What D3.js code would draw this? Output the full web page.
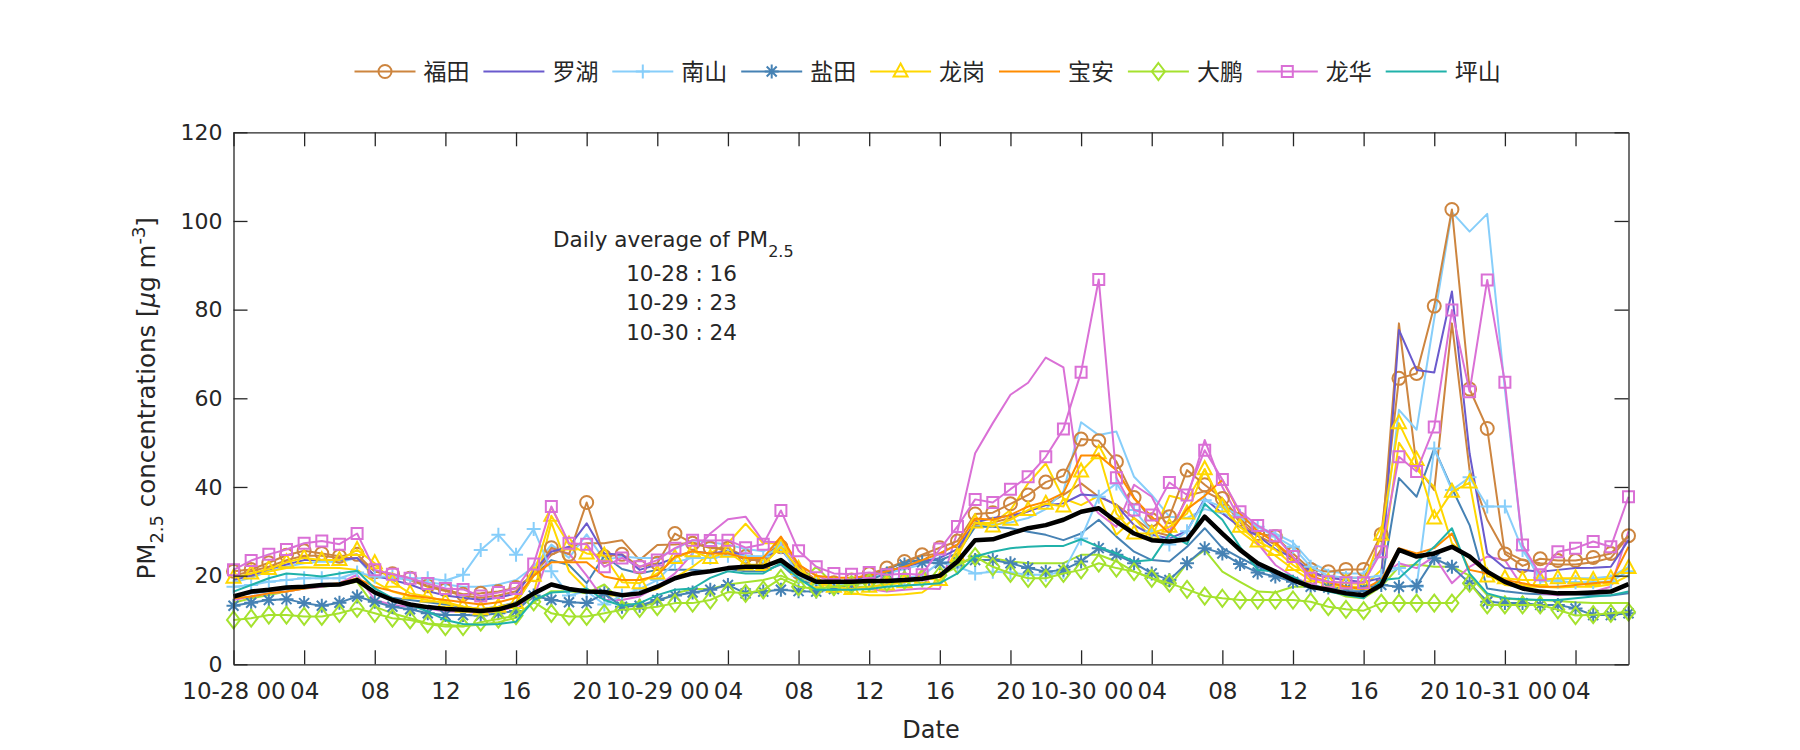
<!DOCTYPE html>
<html><head><meta charset="utf-8">
<script src="https://cdn.jsdelivr.net/npm/d3@7"></script>
<style>
body{margin:0;background:#fff;}
text{font-family:"DejaVu Sans",sans-serif;fill:#262626;}
.cjk{font-family:"Noto Sans CJK SC",sans-serif;}
</style>
</head><body>
<svg id="chart" width="1800" height="750"></svg>
<script>
// ---------------- data ----------------
const hourIndex = d3.range(80); // hourly steps from 10-28 00 to 10-31 07
const tickHours = [0,4,8,12,16,20,24,28,32,36,40,44,48,52,56,60,64,68,72,76];
const tickLabels = ["10-28 00","04","08","12","16","20","10-29 00","04","08","12","16","20","10-30 00","04","08","12","16","20","10-31 00","04"];
const yTicks = [0,20,40,60,80,100,120];
const legendNames = ["福田","罗湖","南山","盐田","龙岗","宝安","大鹏","龙华","坪山"];
const dailyAvgLabels = ["10-28 : 16","10-29 : 23","10-30 : 24"];

const futian = [21,21.4,22.9,24.6,25.6,25.0,24.4,24.8,20.9,20.4,19.4,17.7,16.8,15.8,16.0,16.4,17.3,20.2,26.3,24.8,36.5,24.3,24.8,22.0,22.8,29.5,27.3,26.2,26.2,24.3,22.8,26.5,20.7,17.9,18.4,19.0,20.4,21.7,23.2,24.7,26.3,27.8,33.9,34.2,36.2,38.2,41.1,42.5,50.8,50.4,45.7,37.6,32.6,33.3,43.8,40.5,37.4,32.7,29.5,28.8,25.0,21.4,20.9,21.4,21.4,29.3,64.5,65.6,80.8,102.6,62.1,53.2,24.9,22.2,23.8,23.4,23.4,24.1,25.0,29.0];
const futianB = [20,21,22,23.5,24.5,24.5,24,24,21,20,19,17.5,16.5,15.5,15,15.5,16.5,20.5,24.7,26.5,27.3,27.3,28.0,23.5,26.9,27,27.5,26.5,25.5,23.5,23.5,28,22,19,18.5,19,20,21.5,23,24.5,25,27,31.5,32,33,34.5,36,38.2,40.8,37.8,36,33,30,29,38,39,37,32,29,27,24,20.5,19.5,19.5,19.5,26,76.9,44.6,39.3,76.9,43.8,32.6,25.4,23.5,22.8,22.5,22.5,23,24,28.8];
const luohu = [19,20,21.5,22.5,23.5,23.5,23.5,24,20,19,18,16.5,15.5,15,14.5,15,16,21,25.4,26.5,31.8,25,24.7,21.3,22.5,24,25.5,25,25.5,24.5,24,26,21,18.5,18.5,19,20,21,22,23,24,26,32,33,33.5,34.5,35.9,36.3,38.3,38,35.9,31.4,29.2,28.4,30,37.4,34,31,29,26,24,21,19.5,19,18.5,19.5,75.4,66.4,65.8,84.1,47.6,25,21.7,21.3,20.9,21.3,21.7,21.8,22,28];
const nanshan = [17.5,17.9,18.6,19.0,19.4,19.4,19.4,20.7,19.8,19.8,19.4,19.4,18.9,20.2,25.8,29.2,24.7,30.5,21,15.5,16.5,13.5,15.5,17,19,23,24,24,24.5,24.5,24.3,26.5,20,18,18,18,18.5,19,19.5,20,23,22,20.5,20.9,20.7,20.2,20.2,20.9,28.4,37.8,40.8,34.8,30,27,30,37,35.5,33.5,31,28.8,26.5,22,20,19.5,19.5,20,21.7,17.5,48.7,39.3,42.2,35.6,35.6,25.8,19.5,18.7,18.5,18.5,18.7,21];
const nanshanB = [18.5,19.5,21,22,22.8,23.2,23,24,19.5,19.5,19,18.5,18,17.5,17.5,18,19,22,27,24,29.3,23.5,24.3,24,24,26,28,27.5,27,26,25.5,27,21,18.5,18.5,18.5,19.5,20.5,21.5,22.5,25,27,31,31.5,32,33,35,39,54.6,51.7,52.5,42.3,38.2,33.3,33,35,34,33,31,29.5,27.5,23,21,20.5,20.5,25,57.4,52.9,78,102,97.6,101.6,62,26.9,18.6,19,19.4,19.4,19.8,22];
const yantian = [13.2,13.9,14.5,14.7,13.8,13.2,13.9,15.3,14.1,13.0,12.4,11.5,11.1,11.1,11,11.5,12,15.5,14.5,14.0,13.8,16.0,13.0,13.2,14.5,15.5,16.2,16.8,17.9,16.0,16.4,16.8,16.5,16.4,17,18,19,20.5,22.5,23,22.8,23.2,23.5,23.5,22.8,21.7,20.9,21.3,23.2,26.2,24.7,22.8,20.5,19.0,22.8,26.2,25,22.6,20.7,19.8,18.6,17.5,17.3,17.1,17.1,17.9,17.5,17.7,23.9,22,18.3,14.1,13.8,13.8,13.4,13.4,12.6,11.1,11.1,11.5];
const yantianB = [15.5,16,16.5,17,17.5,17.5,18,19,16,15,14.5,14,13.5,13,12.5,13,14,20,23.5,22.4,18.3,24.5,21.5,20.5,21.3,21.3,21.3,21,21.5,21,21,22.5,19,18,18.5,19,20,21.5,23,23.5,23.5,25,31,31,30.7,29.9,29.2,28,29.5,32.6,28.8,25.4,23.5,23.2,26.5,30.7,26.2,24,22,20.5,19.5,18,17,16.5,16.5,18,42,37.8,48.7,39.7,31.4,17.1,16.5,16,15.8,15.8,15.8,15.5,15.5,16];
const longgang = [19.5,20.5,21.5,23,24,23.5,23.5,25.8,22.8,18.6,16.0,15.3,14.1,13,12.4,13,13.8,20,33.5,27,25,24.5,18.5,18.3,20.5,24,25.5,24,25.4,22.5,22.4,26.5,21.5,18.5,17.5,17,17.5,18,18.5,19.5,19,24.3,32,31.1,32.6,34.8,36.2,35.6,43.5,47.6,34,29.5,29.5,31,34,44,35.6,31,27.7,25.8,22.4,19.8,18.6,18.3,18.1,29.2,54.4,46.1,32.9,38.9,41,19.8,19.4,19.0,19,19.4,19.4,19,19.4,21.7];
const longgangB = [19.4,20.2,20.9,21.7,21.9,21.8,21.7,21.3,18.6,16.4,15.3,14.5,13.8,13.0,12.5,12.5,13,16,32,21,17,15.5,15.5,16,17,19.5,22,25,27.3,31.7,27.3,27.3,19.8,18,17.5,16,15.6,15.6,15.8,16.2,19,25,32,31.8,34.8,40.8,45.3,37.4,35.9,38,29.2,33,28.5,38,37,44,36,30,27,24.5,21.5,19,18,17.5,17.5,21.3,50,44,40,27.3,24,20.5,17.9,17.5,17.5,17.3,17.5,17.5,18,20];
const baoan = [14.9,15.3,16.0,16.4,17.1,17.9,18.3,19.4,17.5,16.5,15.5,15,14.5,14,13.5,14,15,20,23,23,23,19.8,19,19,20,24.3,25.5,25,25,24,24,28.8,22.5,20,19.5,19.5,20,21,22,23.5,25,27,32.9,32.6,33.7,35.6,36.7,38.6,47.1,47.1,43.8,37.4,33.3,29.5,35,38,41.6,34,30,27.5,24,20,18.5,17.5,17,19,26.2,25,26.2,29.5,21.3,20.5,19,18.3,17.5,17.5,17.9,18.3,18.6,26.5];
const dapeng = [10.0,10.4,11.1,11.1,10.8,10.8,11.5,12.6,11.5,10.4,10.0,9.1,8.5,8.5,9.5,10.2,11,14.1,11.5,10.8,10.8,11.5,12.3,12.6,13.0,13.8,13.8,14.5,16.3,16,16.8,19.4,17.5,17,17.5,18,18.5,18.5,19,19.5,20.1,22.4,24.3,22,20.5,19.4,19.4,20.5,21.3,22.8,21.7,20.9,19.4,18.3,16.9,15.4,14.9,14.5,14.5,14.5,14.5,14.1,13,12.4,12.1,13.8,13.8,13.8,13.8,13.8,18.3,13.4,13.4,13.4,13.4,12.3,11,11.2,11.5,11.8];
const dapengB = [13.9,14.9,15.6,16.4,17.1,17.5,17.9,18.6,13.0,11.5,10.4,9.2,8.9,8.6,9,9.5,10.5,14,16.5,16.5,16.0,18,14,13,14,16,17,17,18,18.5,19,20,18.3,22,18,17.5,17.5,18,18.5,19,20,22,24.7,23.9,23.2,22.8,22.8,22.8,24.7,24.7,23.2,20.9,19.4,17.5,22.8,25.8,20.9,18.6,16.4,16.2,17.5,17.5,16.8,15.3,14.9,17.5,22,22.5,22,22,20,15.6,14.9,14.5,14.5,14.3,14,13.8,13.8,13.8];
const longhua = [21.3,23.4,24.8,25.9,27.3,27.8,27.1,29.5,21.3,20.3,19.4,18.2,17.1,16.9,15.4,16.2,17.1,22.6,35.6,27.3,27.1,22.0,24.0,22.0,23.5,26.2,28.0,27.9,28.0,26.3,27.1,34.7,25.6,22.0,20.5,20.3,20.7,20.2,20.4,20.2,26,31.1,37.2,36.5,39.5,42.3,46.8,53.1,65.9,86.8,42.1,34.8,33.7,41.0,38.2,48.3,41.7,34.4,31.3,29,24.3,19.4,18.6,18.4,18.4,25.4,46.8,43.5,53.5,79.9,61.5,86.7,63.6,26.9,20.2,25.4,26.2,27.7,26.5,37.8];
const longhuaB = [14.5,15.3,16,16.4,17.1,17.5,18.3,20.2,14.5,13.4,13.0,12.6,11.9,11.9,11.5,12,13,15,26,25,20,14.5,14.5,15.3,17.5,20.5,25,29.5,32.7,33.3,27.7,27.5,22.4,20,18.5,17.5,17,16.4,16.8,17.1,17,30,47.6,54.4,60.8,63.5,69.2,67,39,34,31,40.5,37.8,30,37.4,50.6,40,32.6,27.3,22.4,19.8,17.9,16.8,16,15.3,19.8,22.8,21.7,24.3,18.3,22,24.3,23.5,17.5,16,15.6,16,16.4,17.5,30];
const pingshan = [16.4,17.9,19.4,20.5,20.2,19.8,20.5,21.1,17.1,14.9,13.4,11.9,10.0,9.1,8.9,9.1,9.6,14.5,16.2,16.4,17.1,14.5,13.2,13.8,15.6,16.8,17.1,19.5,21,20.5,20.5,22.8,19.4,16.8,16.8,16.8,17,17.5,17.8,18,18.3,20.5,24.3,25.4,26.2,26.5,26.7,26.7,28.2,26.5,25,23.2,23.5,29.4,27.1,36.2,32.6,26.5,21.3,20.9,19.8,17.5,16.4,15.6,14.9,19,19.4,23,26.5,30.7,20.5,16,14.9,14.7,14.5,14.5,14.9,15.3,15.6,16.4];
const cityAvg = [15.3,16.4,16.8,17.3,17.5,17.9,18.0,19.0,16.2,14.5,13.5,12.9,12.5,12.3,12.0,12.4,13.5,16.0,18.0,17.0,16.4,16.3,15.6,16.0,17.5,19.4,20.5,21,21.7,22,22,23.5,20.5,18.6,18.6,18.6,18.8,18.8,19,19.3,20,23.2,28,28.2,29.5,30.7,31.4,32.6,34.4,35.2,32.2,29.5,28,27.7,28.2,33.3,29.5,25.8,22.8,20.9,19.0,17.5,16.8,16.0,15.6,17.9,25.8,24.3,25.0,26.5,24.3,20.9,18.6,17.1,16.4,16.0,16.0,16.2,16.4,18.1];

// ---------------- layout ----------------
const plot = {left:233.5, right:1628.5, top:132.3, bottom:664.3};
const svg = d3.select("#chart");
const x = d3.scaleLinear().domain([0,79]).range([plot.left, plot.right]);
const y = d3.scaleLinear().domain([0,120]).range([plot.bottom, plot.top]);

const C = {
  futian:"#CD853F", luohu:"#6A5ACD", nanshan:"#87CEFA", yantian:"#4682B4",
  longgang:"#FFD700", baoan:"#FF8C00", dapeng:"#A5E22E", longhua:"#DA70D6",
  pingshan:"#20B2AA", avg:"#000000"
};

const secondary = [
  {data:futianB, color:C.futian},
  {data:nanshanB, color:C.nanshan},
  {data:yantianB, color:C.yantian},
  {data:longgangB, color:C.longgang},
  {data:dapengB, color:C.dapeng},
  {data:longhuaB, color:C.longhua}
];
const main = [
  {data:futian, color:C.futian, marker:"circle"},
  {data:luohu, color:C.luohu, marker:null},
  {data:nanshan, color:C.nanshan, marker:"plus"},
  {data:yantian, color:C.yantian, marker:"star"},
  {data:longgang, color:C.longgang, marker:"triangle"},
  {data:baoan, color:C.baoan, marker:null},
  {data:dapeng, color:C.dapeng, marker:"diamond"},
  {data:longhua, color:C.longhua, marker:"square"},
  {data:pingshan, color:C.pingshan, marker:null}
];

const line = d3.line().x((d,i)=>x(hourIndex[i])).y(d=>y(d));

function markerPath(type){
  switch(type){
    case "circle": return d3.arc()({innerRadius:0,outerRadius:6.5,startAngle:0,endAngle:2*Math.PI});
    case "plus": return "M-7,0H7M0,-7V7";
    case "star": return "M-7,0H7M0,-7V7M-5,-5L5,5M-5,5L5,-5";
    case "triangle": return "M0,-8L7,5H-7Z";
    case "diamond": return "M0,-8.5L6.5,0L0,8.5L-6.5,0Z";
    case "square": return "M-5.5,-5.5H5.5V5.5H-5.5Z";
  }
  return "";
}

const g = svg.append("g");
secondary.forEach(s=>{
  g.append("path").attr("d", line(s.data)).attr("fill","none")
   .attr("stroke", s.color).attr("stroke-width",2).attr("stroke-linejoin","round");
});
main.forEach(s=>{
  g.append("path").attr("d", line(s.data)).attr("fill","none")
   .attr("stroke", s.color).attr("stroke-width",2).attr("stroke-linejoin","round");
  if(s.marker){
    g.append("g").selectAll("path").data(s.data).join("path")
     .attr("transform",(d,i)=>`translate(${x(hourIndex[i])},${y(d)})`)
     .attr("d", markerPath(s.marker)).attr("fill","none")
     .attr("stroke", s.color).attr("stroke-width",2);
  }
});
g.append("path").attr("d", line(cityAvg)).attr("fill","none")
 .attr("stroke", C.avg).attr("stroke-width",4.5).attr("stroke-linejoin","round");

// ---------------- axes ----------------
const axisColor = "#262626";
const xAxis = svg.append("g").attr("transform",`translate(0,${plot.bottom})`)
  .call(d3.axisBottom(x).tickValues(tickHours).tickFormat((d,i)=>tickLabels[i]).tickSizeInner(-14).tickSizeOuter(0).tickPadding(18));
const xTop = svg.append("g").attr("transform",`translate(0,${plot.top})`)
  .call(d3.axisTop(x).tickValues(tickHours).tickFormat("").tickSizeInner(-14).tickSizeOuter(0));
const yAxis = svg.append("g").attr("transform",`translate(${plot.left},0)`)
  .call(d3.axisLeft(y).tickValues(yTicks).tickSizeInner(-14).tickSizeOuter(0).tickPadding(11));
const yRight = svg.append("g").attr("transform",`translate(${plot.right},0)`)
  .call(d3.axisRight(y).tickValues(yTicks).tickFormat("").tickSizeInner(-14).tickSizeOuter(0));
[xAxis,xTop,yAxis,yRight].forEach(a=>{
  a.selectAll("path,line").attr("stroke",axisColor).attr("stroke-width",1.3);
  a.selectAll("text").attr("font-family","DejaVu Sans").attr("font-size",22).attr("fill",axisColor);
});
xAxis.selectAll("text").attr("font-size",23);

// axis titles
svg.append("text").attr("x",(plot.left+plot.right)/2).attr("y",738)
  .attr("text-anchor","middle").attr("font-size",24).text("Date");

const yl = svg.append("text").attr("transform",`translate(155,${(plot.top+plot.bottom)/2}) rotate(-90)`)
  .attr("text-anchor","middle").attr("font-size",24.5);
yl.append("tspan").text("PM");
yl.append("tspan").attr("dy",8).attr("font-size",18).text("2.5");
yl.append("tspan").attr("dy",-8).text(" concentrations [");
yl.append("tspan").attr("font-style","italic").text("μ");
yl.append("tspan").text("g m");
yl.append("tspan").attr("dy",-10).attr("font-size",18).text("-3");
yl.append("tspan").attr("dy",10).text("]");

// annotation
const ann = svg.append("text").attr("x",553).attr("y",246.7).attr("font-size",21.5);
ann.append("tspan").text("Daily average of PM");
ann.append("tspan").attr("dy",10).attr("font-size",16).text("2.5");
dailyAvgLabels.forEach((t,i)=>{
  svg.append("text").attr("x",681.5).attr("y",280.7+i*29.7).attr("text-anchor","middle")
    .attr("font-size",21.5).text(t);
});

// ---------------- legend ----------------
const legendSeries = main.map((s,i)=>({name:legendNames[i], color:s.color, marker:s.marker}));
const lg = svg.append("g").attr("transform","translate(354.5,71.5)");
legendSeries.forEach((s,i)=>{
  const gx = i*128.9;
  const it = lg.append("g").attr("transform",`translate(${gx},0)`);
  it.append("line").attr("x1",0).attr("x2",61).attr("y1",0).attr("y2",0)
    .attr("stroke",s.color).attr("stroke-width",2);
  if(s.marker) it.append("path").attr("transform","translate(30.5,0)")
    .attr("d",markerPath(s.marker)).attr("fill","none").attr("stroke",s.color).attr("stroke-width",2);
  it.append("text").attr("class","cjk").attr("x",69).attr("y",8.5).attr("font-size",23).text(s.name);
});
</script>
</body></html>
